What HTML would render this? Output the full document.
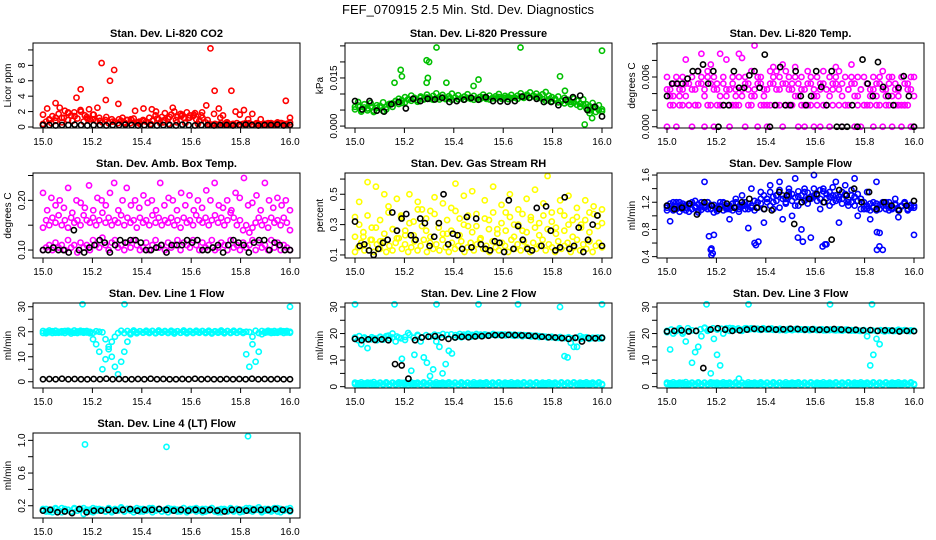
<!DOCTYPE html>
<html><head><meta charset="utf-8"><style>
body{margin:0;background:#fff;}
svg{display:block;font-family:"Liberation Sans",sans-serif;}
</style></head><body>
<svg id="chart" width="936" height="540" viewBox="0 0 936 540">
<text x="468" y="14" font-size="13" text-anchor="middle">FEF_070915  2.5 Min. Std. Dev. Diagnostics</text>
</svg>
<script>
// ---- data ----
const xTicks=[15.0,15.2,15.4,15.6,15.8,16.0];
const co2Red=[1.6,2.4,0.5,3.1,2.5,1.2,1.9,0.8,3.8,4.9,1.5,2.3,1.0,2.5,8.3,3.5,6.0,7.4,3.0,1.2,0.9,1.0,2.1,0.7,2.4,0.6,2.3,2.0,0.5,0.9,0.4,2.5,0.6,1.4,0.5,1.2,1.6,0.4,1.9,2.8,10.2,4.7,2.4,1.5,0.6,4.7,2.0,1.6,2.2,1.0,1.7,0.5,1.0,0.4,0.3,0.3,0.4,0.5,3.4,1.2];
const co2Red2=[0.3,0.9,1.2,0.6,1.8,1.4,2.0,1.1,1.6,0.8,1.3,0.7,1.0,0.5,0.9,0.6,0.8,0.4,1.1,0.6,1.3,0.9,1.6,1.2,1.8,1.5,0.9,1.7,1.2,0.6,0.4,0.3,0.5,0.3,0.4,0.3,0.5,0.3,0.4,0.6];
const co2Red3=[0.4,0.7,1.0,1.4,0.8,1.7,1.2,2.1,0.9,1.5,1.9,1.1,2.2,0.7,1.3,1.0,1.6,0.8,1.2,0.6,0.9,0.5,1.0,0.7,0.5,0.8,0.6,0.9,0.5,1.1,0.6,0.4,0.9,0.7,1.2,0.8,1.5,1.0,1.3,1.8,1.1,1.6,2.0,1.3,1.7,1.2,1.9,1.5,1.4,1.0,0.8,1.2,0.6,0.4,0.3,0.4,0.3,0.5,0.3,0.4,0.3,0.3,0.5,0.3,0.4,0.3,0.5,0.3,0.4,0.3,0.3,0.4,0.5,0.3,0.4,0.6,0.5,0.3,0.4,0.3];
const co2Black=[0.25,0.25,0.2,0.25,0.25,0.3,0.25,0.2,0.25,0.25,0.2,0.25,0.25,0.3,0.25,0.2,0.25,0.25,0.2,0.25,0.25,0.2,0.3,0.25,0.2,0.25,0.25,0.2,0.25,0.25,0.2,0.25,0.3,0.25,0.2,0.25,0.25,0.3,0.2,0.25];
const presG1=[0.006,0.0075,0.005,0.0068,0.0055,0.0072,0.0048,0.0065,0.0058,0.0074,0.0052,0.0069,0.006,0.0078,0.0085,0.0072,0.009,0.0082,0.0095,0.0088,0.0076,0.0092,0.0085,0.0098,0.0088,0.0094,0.0102,0.009,0.0097,0.0086,0.0093,0.0101,0.0089,0.0096,0.0087,0.0092,0.0099,0.0088,0.0094,0.0086,0.0091,0.0098,0.0089,0.0095,0.0087,0.0093,0.01,0.0088,0.0094,0.0091,0.0097,0.0089,0.0095,0.0102,0.0092,0.0098,0.0105,0.0094,0.0101,0.0093,0.0099,0.0106,0.0095,0.009,0.0085,0.0092,0.0078,0.0088,0.0082,0.0075,0.0086,0.0079,0.007,0.0083,0.0068,0.0062,0.0072,0.0058,0.0065,0.0052];
const presG2=[0.0052,0.0064,0.0045,0.0058,0.0049,0.0061,0.0044,0.0057,0.0063,0.0047,0.0059,0.0066,0.0071,0.0078,0.0069,0.0081,0.0074,0.0084,0.0079,0.0086,0.0081,0.0088,0.0083,0.0089,0.0085,0.0082,0.0087,0.0083,0.0089,0.0084,0.0086,0.0082,0.0088,0.0084,0.0087,0.0083,0.0088,0.0085,0.0082,0.0087,0.0084,0.0089,0.0085,0.0083,0.0088,0.0086,0.009,0.0085,0.0088,0.0084,0.0087,0.0089,0.0085,0.0091,0.0088,0.0093,0.0089,0.0095,0.0091,0.0088,0.0084,0.0079,0.0083,0.0077,0.0081,0.0074,0.0078,0.0071,0.0076,0.0068,0.0073,0.0066,0.006,0.0067,0.0055,0.0049,0.0058,0.0044,0.005,0.0046];
const presOutX=[15.16,15.185,15.19,15.29,15.3,15.295,15.29,15.33,15.37,15.48,15.5,15.67,15.83,15.85,15.93,15.96,16.0,15.95];
const presOut=[0.0135,0.0175,0.0155,0.0205,0.02,0.015,0.0135,0.0245,0.0135,0.0125,0.0145,0.0245,0.0155,0.011,0.0005,0.0025,0.0235,0.004];
const presBlack=[0.0078,0.0052,0.0078,0.0048,0.0045,0.0068,0.0075,0.0055,0.0085,0.0078,0.0085,0.0083,0.0088,0.0075,0.0078,0.0082,0.0088,0.0082,0.009,0.0078,0.0077,0.0076,0.0078,0.0092,0.0088,0.0085,0.0075,0.0075,0.0065,0.0082,0.009,0.0095,0.005,0.006,0.003];
const tempM1=[0.0045,0.0037,0.0052,0.006,0.0037,0.0045,0.0052,0.0026,0.006,0.0045,0.0067,0.0052,0.0037,0.006,0.0075,0.0045,0.0052,0.0037,0.006,0.0045,0.0026,0.0052,0.0045,0.006,0.0037,0.0052,0.0045,0.0067,0.0037,0.006,0.0052,0.0045,0.0026,0.0052,0.006,0.0067,0.0045,0.0075,0.0052,0.006,0.0045,0.0037,0.0052,0.006,0.0045,0.0067,0.0052,0.0037,0.006,0.0045,0.0052,0.0026,0.006,0.0045,0.0052,0.0067,0.0037,0.006,0.0045,0.0052,0.0037,0.006,0.0045,0.0026,0.0052,0.0045,0.006,0.0037,0.0052,0.0067,0.0045,0.006,0.0037,0.0052,0.0045,0.006,0.0026,0.0052,0.0045,0.006];
const tempM2=[0.006,0.0045,0.0037,0.0052,0.0045,0.006,0.0037,0.0052,0.0045,0.0026,0.0052,0.006,0.0045,0.0067,0.0052,0.006,0.0045,0.0026,0.0052,0.0037,0.0045,0.006,0.0037,0.0026,0.0045,0.006,0.0052,0.0037,0.0045,0.0052,0.006,0.0037,0.0045,0.0067,0.0052,0.0045,0.006,0.0052,0.0067,0.0045,0.0052,0.006,0.0037,0.0045,0.0026,0.0052,0.006,0.0045,0.0037,0.0052,0.0067,0.0045,0.0037,0.0052,0.006,0.0045,0.0052,0.0026,0.0045,0.006,0.0052,0.0037,0.0045,0.006,0.0052,0.0037,0.0045,0.0052,0.006,0.0045,0.0037,0.0052,0.006,0.0045,0.0037,0.0026,0.0052,0.0045,0.006,0.0037];
const tempM3=[0,0.0026,0.0026,0,0.0026,0.0026,0.0081,0.0026,0,0.0026,0.0026,0.0088,0,0.0026,0.0026,0,0.0026,0.0088,0.0026,0.0081,0,0.0026,0.0026,0.0088,0.0083,0,0.0026,0.0026,0.0098,0,0.0026,0.0026,0,0.0026,0.0072,0.0026,0.0026,0,0.0026,0.0026,0.0026,0.0072,0,0.0026,0,0.0026,0.0026,0,0.0026,0,0.0026,0.0026,0,0.0026,0.0072,0.0026,0,0.0026,0.0026,0.0075,0,0.0026,0,0.0026,0.0026,0.0026,0,0.0026,0.0026,0,0.0026,0.0026,0,0.0026,0.0026,0,0.0026,0.0026,0,0];
const tempBlack=[0.0037,0.0052,0.0052,0.0052,0.0058,0.0067,0.0067,0.0075,0.0052,0.0067,0,0.0026,0.0026,0.0067,0.0047,0.0047,0.0062,0.0067,0.0047,0.0087,0,0.0026,0.0072,0.0026,0.0026,0.0067,0.0037,0.0026,0.0037,0.0067,0.0048,0.0026,0.0067,0,0,0,0.0026,0,0.0081,0.0052,0.0037,0.0078,0.0048,0.0037,0.0026,0.0047,0.0061,0.0037,0];
const ambM1=[0.145,0.16,0.15,0.165,0.155,0.17,0.15,0.16,0.145,0.165,0.155,0.16,0.15,0.17,0.16,0.155,0.165,0.15,0.16,0.175,0.155,0.165,0.15,0.16,0.155,0.17,0.15,0.165,0.155,0.16,0.145,0.165,0.155,0.16,0.15,0.17,0.155,0.165,0.15,0.16,0.155,0.165,0.15,0.16,0.145,0.165,0.155,0.16,0.15,0.17,0.16,0.155,0.165,0.15,0.16,0.17,0.155,0.165,0.15,0.16,0.175,0.165,0.15,0.16,0.14,0.15,0.135,0.145,0.155,0.165,0.15,0.16,0.145,0.165,0.155,0.16,0.15,0.165,0.155,0.14];
const ambM2=[0.1,0.105,0.11,0.1,0.115,0.105,0.11,0.1,0.12,0.105,0.11,0.095,0.115,0.105,0.11,0.1,0.12,0.11,0.105,0.125,0.11,0.1,0.115,0.12,0.105,0.11,0.1,0.115,0.105,0.12,0.11,0.1,0.105,0.115,0.1,0.11,0.12,0.105,0.11,0.1,0.115,0.105,0.11,0.12,0.1,0.115,0.11,0.105,0.12,0.11,0.1,0.115,0.105,0.11,0.12,0.1,0.105,0.115,0.11,0.1,0.12,0.105,0.11,0.1,0.115,0.105,0.11,0.12,0.1,0.115,0.105,0.11,0.1,0.12,0.105,0.115,0.1,0.11,0.105,0.1];
const ambM3=[0.215,0.18,0.205,0.19,0.2,0.185,0.225,0.175,0.2,0.195,0.185,0.23,0.18,0.205,0.2,0.19,0.215,0.235,0.18,0.2,0.225,0.19,0.2,0.185,0.21,0.195,0.2,0.18,0.235,0.19,0.205,0.2,0.18,0.215,0.19,0.21,0.18,0.2,0.185,0.22,0.2,0.235,0.19,0.185,0.2,0.18,0.215,0.205,0.245,0.19,0.195,0.21,0.18,0.235,0.2,0.185,0.205,0.19,0.2,0.18];
const ambBlack=[0.1,0.1,0.105,0.1,0.1,0.095,0.14,0.1,0.095,0.105,0.11,0.12,0.115,0.095,0.11,0.12,0.115,0.12,0.12,0.115,0.1,0.1,0.105,0.11,0.095,0.11,0.11,0.11,0.12,0.115,0.12,0.1,0.1,0.105,0.11,0.095,0.11,0.12,0.115,0.11,0.095,0.115,0.12,0.12,0.1,0.115,0.11,0.1,0.1];
const rhY1=[0.12,0.15,0.18,0.13,0.16,0.2,0.12,0.17,0.14,0.19,0.12,0.16,0.13,0.18,0.21,0.14,0.17,0.12,0.15,0.19,0.13,0.16,0.2,0.12,0.18,0.14,0.17,0.13,0.2,0.15,0.12,0.18,0.14,0.16,0.19,0.12,0.15,0.18,0.13,0.17,0.2,0.14,0.16,0.12,0.19,0.15,0.13,0.18,0.16,0.12,0.2,0.14,0.17,0.13,0.19,0.15,0.12,0.18,0.14,0.16,0.2,0.13,0.17,0.15,0.12,0.19,0.14,0.16,0.18,0.12,0.15,0.2,0.13,0.17,0.14,0.19,0.12,0.16,0.18,0.15];
const rhY2=[0.22,0.3,0.25,0.36,0.2,0.28,0.33,0.24,0.38,0.27,0.21,0.35,0.26,0.31,0.23,0.4,0.29,0.34,0.22,0.37,0.28,0.24,0.33,0.26,0.39,0.23,0.3,0.36,0.25,0.29,0.21,0.34,0.27,0.38,0.24,0.31,0.26,0.35,0.22,0.3,0.37,0.25,0.33,0.28,0.23,0.36,0.27,0.32,0.24,0.39,0.26,0.3,0.22,0.35,0.28,0.33,0.25,0.37,0.29,0.31];
const rhYellow=[0.35,0.45,0.22,0.58,0.28,0.55,0.19,0.5,0.42,0.27,0.47,0.36,0.23,0.5,0.32,0.45,0.4,0.26,0.39,0.48,0.31,0.44,0.24,0.41,0.57,0.34,0.49,0.29,0.52,0.37,0.21,0.46,0.33,0.55,0.27,0.43,0.38,0.5,0.3,0.4,0.26,0.47,0.35,0.53,0.31,0.44,0.62,0.38,0.28,0.46,0.36,0.49,0.33,0.41,0.3,0.46,0.38,0.42,0.36,0.4];
const rhBlack=[0.32,0.16,0.17,0.13,0.1,0.14,0.18,0.2,0.38,0.26,0.34,0.37,0.23,0.2,0.34,0.31,0.16,0.22,0.31,0.5,0.17,0.24,0.23,0.14,0.35,0.15,0.34,0.17,0.14,0.13,0.19,0.18,0.12,0.46,0.14,0.29,0.2,0.14,0.13,0.41,0.16,0.42,0.26,0.13,0.15,0.48,0.14,0.16,0.28,0.12,0.2,0.3,0.36,0.16];
const flowB1=[1.12,1.18,1.08,1.15,1.2,1.1,1.16,1.06,1.2,1.12,1.17,1.09,1.15,1.2,1.1,1.16,1.07,1.14,1.19,1.1,1.15,1.08,1.2,1.13,1.16,1.1,1.18,1.12,1.08,1.2,1.25,1.3,1.2,1.35,1.28,1.22,1.38,1.3,1.25,1.4,1.32,1.27,1.36,1.3,1.22,1.34,1.28,1.4,1.3,1.25,1.36,1.32,1.28,1.42,1.3,1.24,1.35,1.3,1.2,1.38,1.28,1.32,1.25,1.15,1.1,1.18,1.12,1.08,1.16,1.2,1.1,1.15,1.12,1.18,1.08,1.14,1.2,1.1,1.16,1.12];
const flowB2=[1.08,1.14,1.2,1.1,1.06,1.15,1.12,1.18,1.1,1.14,1.08,1.2,1.12,1.1,1.16,1.05,1.12,1.2,1.08,1.15,1.1,1.18,1.12,1.06,1.14,1.2,1.1,1.15,1.22,1.12,1.18,1.1,1.25,1.15,1.2,1.3,1.12,1.25,1.18,1.3,1.22,1.15,1.28,1.2,1.35,1.18,1.25,1.3,1.22,1.38,1.2,1.26,1.15,1.3,1.22,1.28,1.18,1.32,1.24,1.2,1.15,1.22,1.1,1.2,1.15,1.08,1.12,1.18,1.1,1.15,1.2,1.08,1.12,1.16,1.1,1.14,1.18,1.08,1.12,1.15];
const flowBlue=[1.15,0.92,1.1,1.2,1.12,1.18,1.08,1.15,1.1,1.22,1.05,1.14,1.5,1.2,0.5,0.72,1.1,1.15,1.2,1.12,0.95,1.18,1.25,1.1,1.3,1.15,0.82,1.4,0.6,1.2,1.35,0.9,1.25,1.45,1.1,1.3,1.5,0.95,1.2,1.35,1.0,1.55,1.15,0.8,1.4,1.25,0.68,1.6,1.3,1.1,1.4,0.58,1.35,1.2,1.5,0.9,1.25,1.45,1.15,1.3,1.55,1.0,1.25,1.1,1.35,0.95,1.2,1.5,0.75,0.5,1.15,1.2,1.1,1.25,0.98,1.15,1.2,1.1,1.15,0.72];
const flowOutX=[15.17,15.18,15.185,15.18,15.36,15.37,15.53,15.55,15.63,15.64,15.85,15.86,15.85];
const flowOut=[0.7,0.52,0.45,0.42,0.57,0.62,0.68,0.62,0.55,0.58,0.5,0.55,0.76];
const flowBlack=[1.15,1.1,1.12,1.18,1.02,1.2,1.15,1.1,1.18,1.12,1.2,1.25,1.12,1.1,1.08,1.35,1.3,0.88,1.2,1.25,1.32,1.2,0.65,1.38,1.3,1.4,1.2,1.35,1.1,1.2,1.15,1.08,1.15,1.22];
const l1C1=[19.5,20,19.8,20.2,19.6,20,19.7,20.3,19.9,20,19.6,20.1,19.8,20.2,19.7,20,19.6,20.2,20,19.8,17,14,10,6,3,8,12,16,19,20,19.8,20.2,19.7,20,19.9,20.3,19.6,20,19.8,20.1,19.7,20,19.9,20.2,19.6,20,19.8,20.1,19.7,20,19.9,20.2,19.8,20,19.7,20.1,19.9,20,19.8,20.2,19.7,20,19.6,20.1,19.8,20,19.9,15,8,12,19,20,19.8,20.1,19.6,20,19.9,20.2,19.7,20];
const l1C2=[20.3,19.4,20.5,19.5,20.4,19.6,20.2,19.5,20.4,19.3,20.5,19.5,20.4,19.6,20.3,19.4,17,15,12,5,9,13,16,18,19.5,20.4,19.5,20.3,19.6,20.5,19.4,20.2,19.6,20.4,19.5,20.3,19.4,20.5,19.6,20.3,19.5,20.4,19.3,20.2,19.6,20.5,19.4,20.3,19.5,20.4,19.6,20.3,19.5,20.4,19.3,20.2,19.6,20.5,19.4,20.3,19.5,20.4,19.6,20.3,19.5,11,6,18,20.4,19.5,20.3,19.6,20.4,19.5,20.3,19.6,20.4,19.5,20.3,19.6];
const l1Black=[1,1.1,1,1.2,1,1.1,1,1,1.1,1,1.2,1,1.1,1,1,1.1,1,1.2,1,1.1,1,1,1.1,1,1.2,1,1.1,1,1,1.1,1,1.1,1,1.2,1,1.1,1,1.1,1,1];
const outX=[15.0,15.16,15.33,15.5,15.66,15.83,16.0];
const l1Out=[null,31,31,null,null,null,30];
const low1=[1,1.3,0.9,1.2,1,1.4,0.9,1.1,1.3,1,1.2,0.9,1.3,1,1.1,1.4,0.9,1.2,1,1.3,1.1,0.9,1.2,1,1.4,1.1,0.9,1.3,1,1.2,1.1,1,1.3,0.9,1.2,1,1.4,1.1,0.9,1.2,1,1.3,1.1,0.9,1.2,1,1.4,1.1,1,1.3,0.9,1.2,1,1.1,1.3,0.9,1.2,1,1.4,1.1,0.9,1.3,1,1.2,1.1,1,1.3,0.9,1.2,1,1.4,1.1,0.9,1.3,1,1.2,1.1,1,1.3,1];
const low2=[1.5,0.8,1.6,0.7,1.5,0.8,1.7,0.7,1.5,0.8,1.6,0.7,1.5,0.8,1.6,0.7,1.5,0.5,1.6,0.7,1.5,0.8,1.6,0.7,1.5,0.8,1.6,0.7,1.5,0.8,1.6,0.7,1.5,0.8,1.6,0.7,1.5,0.8,1.6,0.7,1.5,0.8,1.6,0.7,1.5,0.8,1.6,0.7,1.5,0.8,1.6,0.7,1.5,0.8,1.6,0.7,1.5,0.8,1.6,0.7,1.5,0.8,1.6,0.7,1.5,0.8,1.6,0.7,1.5,0.8,1.6,0.7,1.5,0.8,1.6,0.7,1.5,0.8,1.6,0.7];
const l2Cyan2=[18,17.5,16,18.5,14.5,17.8,18.2,17.5,18.6,17.7,19,18.2,20,17,18.5,10.5,17.6,20.2,6,12,19.5,17,11,9,4,6.5,17,15,5,8.5,13.5,12.5,18.5,19,18.6,19,19.2,18.8,19.3,19.1,19.4,19.2,19.5,19.3,19.6,19.4,19.5,19.3,19.6,19.5,19.4,19.6,19.3,19.5,19.4,19.2,19.3,19.1,19.2,19,18.9,18.8,18.7,18.6,18.5,18.4,18.3,11.5,11,16.5,15,15,19,18.5,18.6,18.2,18.4,18.3,18.2,18.5];
const l2Cyan3=[18.5,19,18.2,17.8,18.6,18.1,18.8,18.3,19.2,18.5,18.9,18.2,18.7,19.5,18.4,19.1,18.6,19.4,18.9,19.6,19.3,19.8,19.5,19.7,19.4,19.8,19.6,19.9,19.5,19.8,19.6,19.7,19.4,19.8,19.5,19.7,19.3,19.6,19.2,19.4,19,19.3,18.9,19.1,18.7,18.9,18.5,18.8,18.4,18.7,18.3,18.6,18.2,18.5,18.1,18.4,18,18.3,18.5,18.2];
const l2Black=[18,17.5,17.8,17.6,17.8,17.5,8.5,8,3,17.5,18.5,18.8,19,18.5,18,18.5,18.8,18.6,18.9,19,19.2,19.4,19.3,19.5,19.4,19.3,19.2,19,18.8,18.6,18.5,18.3,18,18.4,17,18.3,18.2,18.4];
const l2Out=[31,31,31,31,31,30,31];
const l3Cyan2=[21,14,20,21,22,20,17,21,9,13,15,19,22,21,5,18,12,8,20,22,21,22,21.5,3,21,22,21.5,22,21.6,21.8,21.4,21.7,21.5,21.6,21.4,21.5,21.3,21.4,21.2,21.5,21.3,21.6,21.4,21.5,21.3,21.6,21.4,21.5,21.3,21.4,21.2,21.5,21.3,21.4,21.2,21.3,21.1,21.4,21.2,21.3,21.1,21.2,21,21.3,19,8,12,18,16,21,21.3,21,21.2,21,21.4,21.1,21.3,21,21.2,21];
const l3Cyan3=[20.5,21.5,20.8,21.4,20.6,22,21.2,20.9,21.6,22.2,21.4,22,21.5,21.8,21.3,22.1,21.6,21.9,21.4,22,21.7,21.8,21.5,22,21.6,21.9,21.4,21.8,21.5,21.7,21.4,21.8,21.5,21.6,21.3,21.7,21.4,21.6,21.2,21.5,21.3,21.6,21.2,21.5,21.1,21.4,21,21.3,20.9,21.2,21,21.3,20.8,21.2,20.9,21.1,21,21.2,20.9,21.1];
const l3Black=[20.8,21,21.2,20.8,21,7,21.5,22,21.5,21,21.2,21.5,21.8,21.6,21.7,21.5,21.6,21.8,21.7,21.5,21.6,21.4,21.5,21.7,21.5,21.3,21.4,21.2,21.3,21,21.2,21.1,20.8,21,20.9];
const l3Out=[null,31,31,null,31,31,null];
const l4C1=[0.14,0.16,0.13,0.15,0.17,0.14,0.12,0.16,0.15,0.13,0.17,0.14,0.16,0.1,0.15,0.13,0.17,0.14,0.16,0.15,0.13,0.17,0.14,0.16,0.15,0.18,0.13,0.16,0.14,0.15,0.17,0.13,0.16,0.14,0.15,0.17,0.14,0.16,0.13,0.15,0.17,0.14,0.16,0.15,0.13,0.17,0.14,0.16,0.15,0.17,0.14,0.16,0.13,0.15,0.17,0.14,0.12,0.16,0.15,0.13,0.17,0.14,0.16,0.15,0.13,0.17,0.14,0.16,0.15,0.18,0.13,0.16,0.14,0.15,0.17,0.13,0.16,0.14,0.15,0.17];
const l4C2=[0.16,0.13,0.15,0.12,0.16,0.14,0.17,0.13,0.15,0.12,0.16,0.14,0.15,0.17,0.13,0.15,0.12,0.16,0.14,0.15,0.13,0.16,0.12,0.15,0.14,0.17,0.13,0.16,0.15,0.12,0.14,0.16,0.13,0.15,0.17,0.12,0.14,0.16,0.13,0.15,0.12,0.16,0.14,0.13,0.15,0.17,0.12,0.14,0.16,0.13,0.15,0.12,0.16,0.14,0.17,0.13,0.15,0.12,0.16,0.14,0.15,0.13,0.16,0.12,0.15,0.14,0.17,0.13,0.16,0.15,0.12,0.14,0.16,0.13,0.15,0.17,0.12,0.14,0.16,0.13];
const l4Black=[0.14,0.15,0.12,0.13,0.11,0.16,0.12,0.14,0.14,0.15,0.14,0.15,0.16,0.14,0.15,0.15,0.16,0.15,0.14,0.15,0.14,0.15,0.14,0.15,0.14,0.13,0.15,0.15,0.14,0.15,0.15,0.15,0.16,0.15,0.14];
const l4OutX=[15.17,15.5,15.83];
const l4Out=[0.95,0.92,1.05];

const panels=[
 {name:'co2',title:'Stan. Dev. Li-820 CO2',ylab:'Licor ppm',col:0,row:0,ylim:[-0.13,10.9],yt:[0,2,4,6,8,10],yl:[0,2,4,6,8],fmt:v=>String(v),series:[['#ff0000',co2Red3],['#ff0000',co2Red2],['#ff0000',co2Red],['#000',co2Black]]},
 {name:'pressure',title:'Stan. Dev. Li-820 Pressure',ylab:'kPa',col:1,row:0,ylim:[-0.0006,0.0259],yt:[0,0.005,0.01,0.015,0.02,0.025],yl:[0,0.015],fmt:v=>v.toFixed(3),series:[['#00c000',presG2],['#00c000',presG1],['#00c000',presOut,presOutX],['#000',presBlack]]},
 {name:'temp',title:'Stan. Dev. Li-820 Temp.',ylab:'degrees C',col:2,row:0,ylim:[-0.00015,0.0101],yt:[0,0.002,0.004,0.006,0.008,0.01],yl:[0,0.006],fmt:v=>v.toFixed(3),series:[['#ff00ff',tempM3],['#ff00ff',tempM2],['#ff00ff',tempM1],['#000',tempBlack]]},
 {name:'ambbox',title:'Stan. Dev. Amb. Box Temp.',ylab:'degrees C',col:0,row:1,ylim:[0.084,0.255],yt:[0.1,0.15,0.2,0.25],yl:[0.1,0.2],fmt:v=>v.toFixed(2),series:[['#ff00ff',ambM2],['#ff00ff',ambM1],['#ff00ff',ambM3],['#000',ambBlack]]},
 {name:'rh',title:'Stan. Dev. Gas Stream RH',ylab:'percent',col:1,row:1,ylim:[0.08,0.64],yt:[0.1,0.2,0.3,0.4,0.5,0.6],yl:[0.1,0.3,0.5],fmt:v=>v.toFixed(1),series:[['#ffff00',rhY1],['#ffff00',rhY2],['#ffff00',rhYellow],['#000',rhBlack]]},
 {name:'sampleflow',title:'Stan. Dev. Sample Flow',ylab:'ml/min',col:2,row:1,ylim:[0.38,1.63],yt:[0.4,0.6,0.8,1.0,1.2,1.4,1.6],yl:[0.4,0.8,1.2,1.6],fmt:v=>v.toFixed(1),series:[['#0000ff',flowB2],['#0000ff',flowB1],['#0000ff',flowBlue],['#0000ff',flowOut,flowOutX],['#000',flowBlack]]},
 {name:'line1',title:'Stan. Dev. Line 1 Flow',ylab:'ml/min',col:0,row:2,ylim:[-2.5,31.5],yt:[0,5,10,15,20,25,30],yl:[0,10,20,30],fmt:v=>String(v),series:[['#00ffff',l1C2],['#00ffff',l1C1],['#000',l1Black],['#00ffff',l1Out,outX]]},
 {name:'line2',title:'Stan. Dev. Line 2 Flow',ylab:'ml/min',col:1,row:2,ylim:[-0.5,31.5],yt:[0,5,10,15,20,25,30],yl:[0,10,20,30],fmt:v=>String(v),series:[['#00ffff',low1],['#00ffff',low2],['#00ffff',l2Cyan3],['#00ffff',l2Cyan2],['#000',l2Black],['#00ffff',l2Out,outX]]},
 {name:'line3',title:'Stan. Dev. Line 3 Flow',ylab:'ml/min',col:2,row:2,ylim:[-0.5,31.5],yt:[0,5,10,15,20,25,30],yl:[0,10,20,30],fmt:v=>String(v),series:[['#00ffff',low2],['#00ffff',low1],['#00ffff',l3Cyan3],['#00ffff',l3Cyan2],['#000',l3Black],['#00ffff',l3Out,outX]]},
 {name:'line4',title:'Stan. Dev. Line 4 (LT) Flow',ylab:'ml/min',col:0,row:3,ylim:[0.05,1.09],yt:[0.2,0.4,0.6,0.8,1.0],yl:[0.2,0.6,1.0],fmt:v=>v.toFixed(1),series:[['#00ffff',l4C1],['#00ffff',l4C2],['#000',l4Black],['#00ffff',l4Out,l4OutX]]}
];

const NS='http://www.w3.org/2000/svg';
const svg=document.getElementById('chart');
function mk(tag,attrs,parent){const e=document.createElementNS(NS,tag);for(const k in attrs)e.setAttribute(k,attrs[k]);(parent||svg).appendChild(e);return e;}
panels.forEach(p=>{
 const L=33+p.col*312, R=L+267, T=43+p.row*130, B=T+85;
 const xs=v=>L+10+(v-15)*(R-L-20);
 const ys=v=>B-(v-p.ylim[0])/(p.ylim[1]-p.ylim[0])*(B-T);
 const g=mk('g',{});
 
 
 const t=mk('text',{x:(L+R)/2,y:T-6,'font-size':'11','font-weight':'bold','text-anchor':'middle'},g);
 t.textContent=p.title;
 
 
 const yl=mk('text',{x:0,y:0,'font-size':'10','text-anchor':'middle',transform:`translate(${L-22},${(T+B)/2}) rotate(-90)`},g);
 yl.textContent=p.ylab;
 
 
 p.series.forEach(s=>{
  const vals=s[1], xv=s[2];
  vals.forEach((v,i)=>{
   if(v===null)return;
   const x=xv?xv[i]:15+i/(vals.length-1);
   const c=mk('circle',{cx:xs(x),cy:ys(v),r:2.6,fill:'none',stroke:s[0],'stroke-width':1.6},g);
   
   
  });
 });
 const box=mk('rect',{x:L,y:T,width:R-L,height:B-T,fill:'none',stroke:'#000','stroke-width':1},g);
 
 
 xTicks.forEach(v=>{
  mk('line',{x1:xs(v),x2:xs(v),y1:B,y2:B+5,stroke:'#000'},g);
  const tx=mk('text',{x:xs(v),y:B+17,'font-size':'10','text-anchor':'middle'},g);
  tx.textContent=v.toFixed(1);
  
  
 });
 p.yt.forEach(v=>{
  const y=ys(v);
  mk('line',{x1:L-5,x2:L,y1:y,y2:y,stroke:'#000'},g);
 });
 p.yl.forEach(v=>{
  const y=ys(v);
  const ty=mk('text',{x:0,y:0,'font-size':'10','text-anchor':'middle',transform:`translate(${L-8},${y}) rotate(-90)`},g);
  ty.textContent=p.fmt(v);
  
  
 });
});
</script>
</body></html>
